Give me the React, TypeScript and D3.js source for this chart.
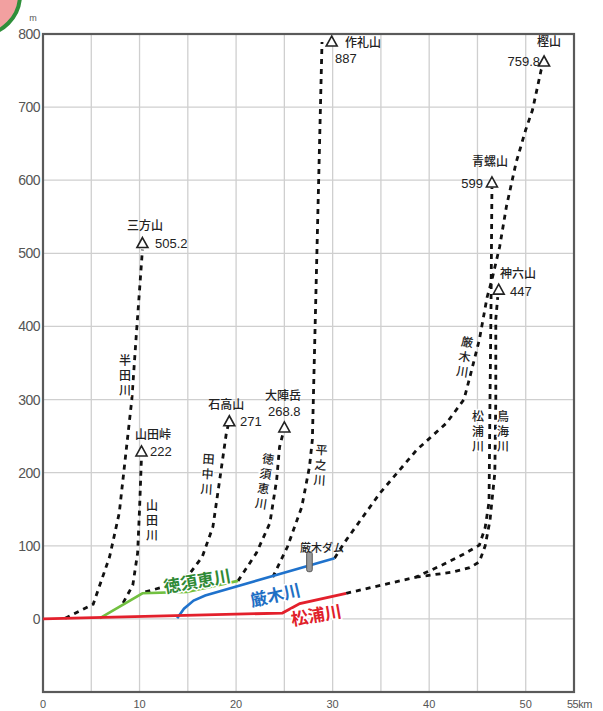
import React from 'react';
import * as d3 from 'd3';

type P = [number, number];

// ---- data (km from river mouth, elevation m) ----
const kmTicks = [0, 10, 20, 30, 40, 50];
const mTicks = [0, 100, 200, 300, 400, 500, 600, 700, 800];
const kmGrid = [5, 10, 15, 20, 25, 30, 35, 40, 45, 50];
const mGrid = [0, 100, 200, 300, 400, 500, 600, 700];

// solid (main) river profiles
const matsuuraMain: P[] = [[0, 0], [24.8, 8], [26.6, 21], [31.4, 35]];
const tokusueMain: P[] = [[5.9, 1], [10.3, 35], [14.9, 37], [20.2, 52]];
const kyuragiMain: P[] = [[13.9, 1], [14.6, 14], [15.6, 25], [16.8, 32], [30.2, 83]];

// dashed (upper reach / tributary) profiles
const handaGawa: P[] = [[2.3, 1], [5.2, 20], [6.9, 85], [7.9, 145], [9.2, 300], [9.7, 395], [10.3, 505.2]];
const yamadaGawa: P[] = [[8.3, 22], [9.3, 46], [9.8, 90], [10.0, 150], [10.2, 222]];
const tanakaGawa: P[] = [[10.6, 37], [12.3, 43], [15.2, 62], [16.5, 85], [17.6, 126], [18.3, 190], [19.0, 255], [19.3, 271]];
const tokusueUpper: P[] = [[20.2, 52], [22.1, 90], [23.5, 131], [24.2, 190], [24.5, 235], [25.0, 261]];
const hiranoGawa: P[] = [[23.8, 57], [25.3, 98], [26.8, 153], [27.6, 208], [27.9, 245], [28.9, 789]];
const kyuragiUpper: P[] = [[30.2, 83], [31.2, 104], [34.9, 172], [38.7, 231], [41.8, 268], [43.6, 300], [44.2, 330], [45.2, 382], [46.0, 440], [46.5, 464], [47.3, 509], [48.0, 564], [49.0, 624], [50.0, 669], [50.7, 696], [51.6, 751], [51.8, 757]];
const matsuuraUpper: P[] = [[31.4, 35], [35.0, 46], [38.6, 57], [41.4, 74], [43.5, 88], [45.2, 101], [45.8, 125], [46.2, 160], [46.3, 300], [46.4, 420], [46.5, 590]];
const toriumiGawa: P[] = [[38.6, 57], [42.4, 64], [44.2, 70], [45.2, 78], [45.8, 100], [46.3, 135], [46.8, 200], [46.9, 300], [46.9, 410], [47.1, 440]];

// peaks
const peakNames = ['三方山', '山田峠', '石高山', '大陣岳', '作礼山', '樫山', '青螺山', '神六山'];
const peakLabels = ['505.2', '222', '271', '268.8', '887', '759.8', '599', '447'];
const peakKm = [10.3, 10.2, 19.3, 25.0, 29.9, 51.9, 46.5, 47.2];
const peakM = [505.2, 222, 271, 268.8, 789, 759.8, 599, 447]; // 作礼山 (887) is drawn at the frame top

// dam
const damKm = 27.6;
const damM = 70;

// ---- layout ----
const W = 603;
const H = 711;
const x = d3.scaleLinear().domain([0, 55]).range([43, 574]);
const y = d3.scaleLinear().domain([-100, 800]).range([692, 34]);
const line = d3.line<P>().x((d) => x(d[0])).y((d) => y(d[1]));

const FONT = "'Noto Sans CJK JP', 'Noto Sans', sans-serif";
const NUMFONT = "'Liberation Sans', Arial, sans-serif";

// label offsets relative to each peak point: [triDy, nameDx, nameDy, nameAnchor, valDx, valDy, valAnchor]
const peakLayout: [number, number, number, string, number, number, string][] = [
  [-6, 2.6, -19.6, 'middle', 12.6, -1.6, 'start'],
  [-4.6, -6.5, -17.6, 'start', 8.5, -0.6, 'start'],
  [1, -21, -12, 'start', 10.7, 5, 'start'],
  [5.6, -19.4, -22, 'start', -16.4, -6, 'start'],
  [0, 13.3, 5, 'start', 3.3, 21, 'start'],
  [-1.4, -7, -17.4, 'start', -4, 2.6, 'end'],
  [2, -20, -15, 'start', -9, 7, 'end'],
  [-2, 1.3, -14, 'start', 11.3, 4, 'start'],
];

function VLabel({ x0, y0, text, rot = 0, size = 12, gap = 3 }: { x0: number; y0: number; text: string; rot?: number; size?: number; gap?: number }) {
  return (
    <text
      x={x0}
      y={y0}
      transform={rot ? `rotate(${rot} ${x0} ${y0})` : undefined}
      fontSize={size}
      fontFamily={FONT}
      fontWeight={500}
      fill="#222"
      stroke="#fff"
      strokeWidth={2.5}
      paintOrder="stroke"
      letterSpacing={gap}
      style={{ writingMode: 'vertical-rl', textOrientation: 'upright' } as any}
    >
      {text}
    </text>
  );
}

export default function App() {
  const dashed = [handaGawa, yamadaGawa, tanakaGawa, tokusueUpper, hiranoGawa, kyuragiUpper, matsuuraUpper, toriumiGawa];
  return (
    <svg width={W} height={H} style={{ position: 'absolute', left: 0, top: 0, background: '#fff' }}>
      <rect width={W} height={H} fill="#fff" />
      <circle cx={-20} cy={-5} r={40} fill="#f2a0a0" stroke="#2f8f3a" strokeWidth={4} />

      {/* grid */}
      {kmGrid.map((k) => (
        <line key={'gx' + k} x1={x(k)} x2={x(k)} y1={y(800)} y2={y(-100)} stroke="#cfcfcf" strokeWidth={1.3} />
      ))}
      {mGrid.map((m) => (
        <line key={'gy' + m} x1={x(0)} x2={x(55)} y1={y(m)} y2={y(m)} stroke="#cfcfcf" strokeWidth={1.3} />
      ))}

      {/* frame */}
      <rect x={x(0)} y={y(800)} width={x(55) - x(0)} height={y(-100) - y(800)} fill="none" stroke="#5a5a5a" strokeWidth={2.2} />

      {/* y ticks */}
      {mTicks.map((m) => (
        <text key={'ty' + m} x={40} y={y(m)} textAnchor="end" dominantBaseline="central" fontSize={14} fontFamily={NUMFONT} fill="#555" letterSpacing={-0.5}>
          {m}
        </text>
      ))}
      <text x={33} y={21} textAnchor="middle" fontSize={9} fontFamily={NUMFONT} fill="#555">m</text>

      {/* x ticks */}
      {kmTicks.map((k) => (
        <text key={'tx' + k} x={x(k)} y={708} textAnchor="middle" fontSize={11} fontFamily={NUMFONT} fill="#555">
          {k}
        </text>
      ))}
      <text x={x(55) - 7} y={708} textAnchor="start" fontSize={11} fontFamily={NUMFONT} fill="#555" letterSpacing={-0.5}>55km</text>

      {/* dashed tributaries */}
      {dashed.map((d, i) => (
        <path key={'d' + i} d={line(d) || ''} fill="none" stroke="#111" strokeWidth={2.8} strokeDasharray="5,5" />
      ))}

      {/* main rivers */}
      <path d={line(tokusueMain) || ''} fill="none" stroke="#72c040" strokeWidth={2.6} />
      <path d={line(kyuragiMain) || ''} fill="none" stroke="#1f72cc" strokeWidth={2.6} />
      <path d={line(matsuuraMain) || ''} fill="none" stroke="#e3202c" strokeWidth={2.8} />

      {/* dam */}
      <rect x={x(damKm) - 2.8} y={y(damM) - 16} width={5.6} height={20} rx={2} fill="#999" stroke="#555" strokeWidth={1} />
      <text x={322} y={552} textAnchor="middle" fontSize={11} fontFamily={FONT} fontWeight={500} fill="#222">厳木ダム</text>

      {/* main river labels */}
      <text x={197} y={580} textAnchor="middle" dominantBaseline="central" fontSize={17} fontWeight={700} fontFamily={FONT} fill="#2f8a35" stroke="#fff" strokeWidth={3} paintOrder="stroke" transform="rotate(-10 197 580)">徳須恵川</text>
      <text x={275} y={594} textAnchor="middle" dominantBaseline="central" fontSize={17} fontWeight={700} fontFamily={FONT} fill="#1f6fc4" stroke="#fff" strokeWidth={3} paintOrder="stroke" transform="rotate(-13 275 594)">厳木川</text>
      <text x={316} y={614} textAnchor="middle" dominantBaseline="central" fontSize={17} fontWeight={700} fontFamily={FONT} fill="#e0202a" stroke="#fff" strokeWidth={3} paintOrder="stroke" transform="rotate(-10 316 614)">松浦川</text>

      {/* vertical tributary labels */}
      <VLabel x0={125} y0={354} text="半田川" />
      <VLabel x0={152} y0={499} text="山田川" />
      <VLabel x0={209} y0={453} text="田中川" rot={4} />
      <VLabel x0={269} y0={453} text="徳須恵川" rot={9} />
      <VLabel x0={322} y0={444} text="平之川" rot={4} />
      <VLabel x0={468} y0={336} text="厳木川" rot={9} />
      <VLabel x0={478} y0={410} text="松浦川" />
      <VLabel x0={503} y0={410} text="鳥海川" />

      {/* peaks */}
      {peakNames.map((n, i) => {
        const px = x(peakKm[i]);
        const py = y(peakM[i]);
        const [tdy, ndx, ndy, na, vdx, vdy, va] = peakLayout[i];
        return (
          <g key={'p' + i}>
            <path d={`M${px},${py + tdy - 6} L${px + 5.5},${py + tdy + 4} L${px - 5.5},${py + tdy + 4} Z`} fill="#fff" stroke="#222" strokeWidth={1.6} />
            <text x={px + ndx} y={py + ndy} textAnchor={na as any} fontSize={12} fontWeight={500} fontFamily={FONT} fill="#222">{n}</text>
            <text x={px + vdx} y={py + vdy} textAnchor={va as any} fontSize={13} fontFamily={NUMFONT} fill="#222">{peakLabels[i]}</text>
          </g>
        );
      })}
    </svg>
  );
}
